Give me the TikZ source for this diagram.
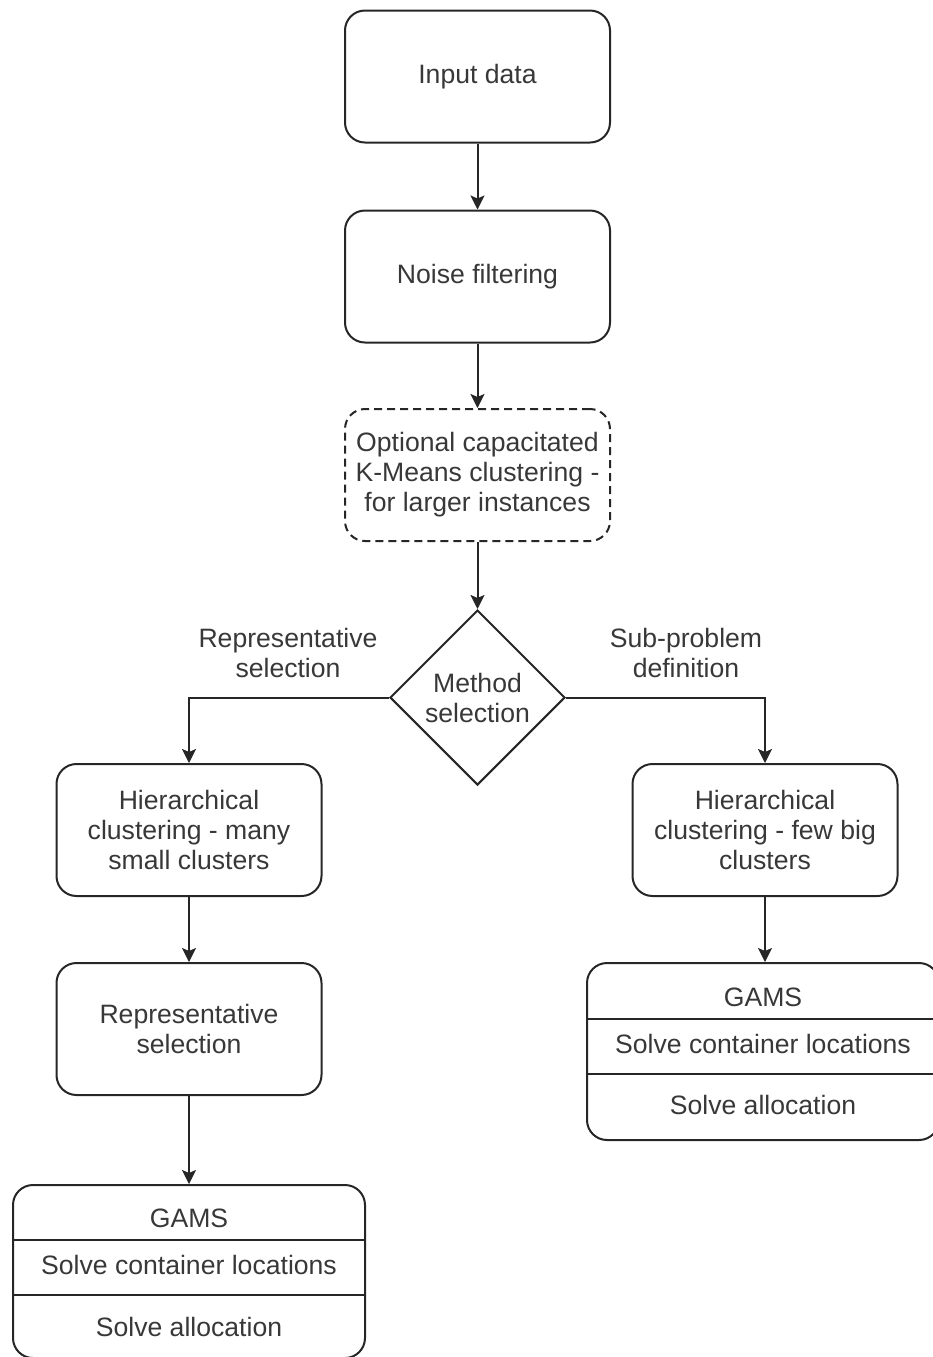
\documentclass[tikz,border=0pt]{standalone}
\usepackage{fontspec}
\setmainfont{Liberation Sans}
\usetikzlibrary{shapes.geometric,arrows.meta}
\begin{document}
\begin{tikzpicture}[x=0.5pt,y=-0.5pt,
    every node/.style={font=\fontsize{13.3pt}{15pt}\selectfont, text=black!78},
    flowbox/.style={draw=black!85, line width=1pt, rounded corners=10pt,
        minimum width=132.5pt, minimum height=66pt, align=center, inner sep=0pt},
    dashbox/.style={flowbox, dash pattern=on 4pt off 2.5pt},
    gamsbox/.style={draw=black!85, line width=1pt, rounded corners=10pt,
        minimum width=176pt, inner sep=0pt},
    decision/.style={draw=black!85, line width=1pt, diamond, aspect=1,
        minimum width=87.5pt, minimum height=87.5pt, align=center, inner sep=0pt},
    flowline/.style={draw=black!85, line width=1pt},
    flowarrow/.style={flowline, -{Stealth[length=7pt,width=7pt,inset=1.5pt]}}]
    \useasboundingbox (0,0) rectangle (933,1357);

    % Main column
    \node [flowbox] (input) at (477.5,76.5) {Input data};
    \node [flowbox] (noise) at (477.5,276.5) {Noise filtering};
    \node [dashbox] (kmeans) at (477.5,475) {Optional capacitated\\K-Means clustering -\\for larger instances};
    \node [decision] (method) at (477.5,697.5) {Method\\selection};

    % Branch labels
    \node [align=center] (repLabel) at (288,653) {Representative\\selection};
    \node [align=center] (subLabel) at (686,653) {Sub-problem\\definition};

    % Left branch
    \node [flowbox] (hierL) at (189,830) {Hierarchical\\clustering - many\\small clusters};
    \node [flowbox] (repsel) at (189,1029) {Representative\\selection};
    \node [gamsbox, minimum height=86.5pt] (gamsL) at (189,1271.5) {};
    \node (gamsLtitle) at (189,1218) {GAMS};
    \node (gamsLloc) at (189,1265) {Solve container locations};
    \node (gamsLalloc) at (189,1327) {Solve allocation};

    % Right branch
    \node [flowbox] (hierR) at (765,830) {Hierarchical\\clustering - few big\\clusters};
    \node [gamsbox, minimum height=88.5pt] (gamsR) at (763,1051.5) {};
    \node (gamsRtitle) at (763,997) {GAMS};
    \node (gamsRloc) at (763,1044) {Solve container locations};
    \node (gamsRalloc) at (763,1105) {Solve allocation};

    % Divider heights of the GAMS boxes
    \coordinate (divLa) at (0,1240);
    \coordinate (divLb) at (0,1295);
    \coordinate (divRa) at (0,1019);
    \coordinate (divRb) at (0,1074);
    \draw [flowline] (gamsL.west |- divLa) -- (gamsL.east |- divLa);
    \draw [flowline] (gamsL.west |- divLb) -- (gamsL.east |- divLb);
    \draw [flowline] (gamsR.west |- divRa) -- (gamsR.east |- divRa);
    \draw [flowline] (gamsR.west |- divRb) -- (gamsR.east |- divRb);

    % Connectors
    \draw [flowarrow] (input) -- (noise);
    \draw [flowarrow] (noise) -- (kmeans);
    \draw [flowarrow] (kmeans) -- (method);
    \draw [flowarrow] (method.west) -| (hierL.north);
    \draw [flowarrow] (method.east) -| (hierR.north);
    \draw [flowarrow] (hierL) -- (repsel);
    \draw [flowarrow] (repsel) -- (gamsL);
    \draw [flowarrow] (hierR.south) -- (hierR.south |- gamsR.north);
\end{tikzpicture}
\end{document}
